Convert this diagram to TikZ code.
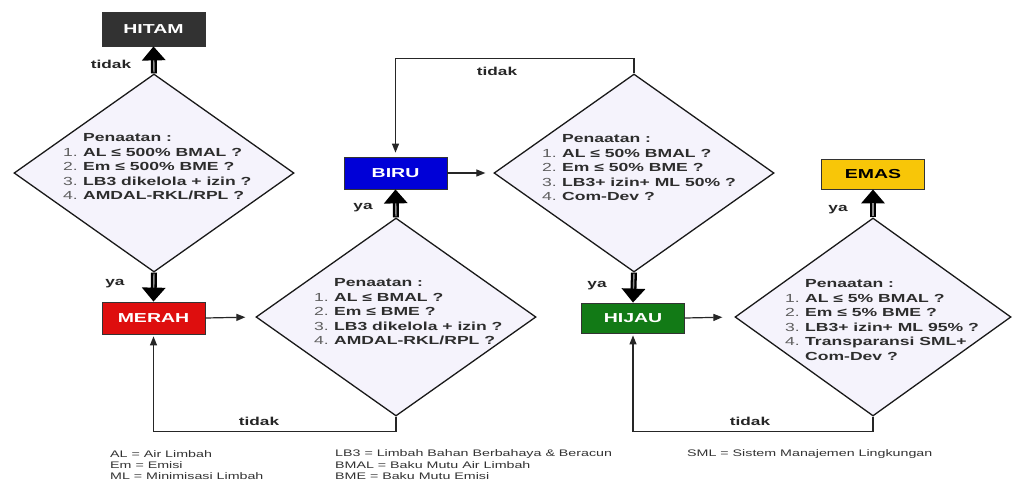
\documentclass[tikz,border=0pt]{standalone}
\usepackage{fontspec}
\setmainfont{Liberation Sans}[FakeStretch=1.5]
\usetikzlibrary{shapes.geometric,arrows.meta}
\definecolor{dfill}{RGB}{245,243,252}
\definecolor{dtext}{RGB}{45,45,45}
\definecolor{dnum}{RGB}{95,95,95}
\definecolor{cHitam}{RGB}{50,50,50}
\definecolor{cMerah}{RGB}{222,14,14}
\definecolor{cBiru}{RGB}{0,0,215}
\definecolor{cHijau}{RGB}{18,122,22}
\definecolor{cEmas}{RGB}{248,198,8}
\newcommand\pn[1]{\makebox[20pt][l]{\mdseries\color{dnum}#1}}
\newcommand\ptxt[1]{%
  {\fontsize{11.7}{14.6}\selectfont\bfseries\color{dtext}%
   \begin{tabular}{@{}l@{}}#1\end{tabular}}}
\begin{document}
\begin{tikzpicture}[x=1pt,y=-1pt,
  box/.style={draw=black!80, line width=0.8pt, minimum width=103pt,
    minimum height=32pt, inner sep=0pt,
    font=\fontsize{13}{15}\selectfont\bfseries, text=white},
  dia/.style={diamond, draw=black!90, line width=1.3pt, fill=dfill,
    minimum width=280pt, minimum height=198pt, inner sep=0pt, aspect=1.4},
  ptext/.style={anchor=north west, inner sep=0pt},
  thickarr/.style={line width=6pt, draw=black,
    -{Triangle[width=23pt,length=14pt]}},
  core/.style={line width=1.4pt, draw=black!45, shorten >=14pt, shorten <=1pt},
  thinarr/.style={line width=1.2pt, draw=black!85,
    -{Triangle[width=7pt,length=9pt]}},
  lab/.style={font=\fontsize{11.5}{13}\selectfont\bfseries, text=black!85,
    inner sep=0pt},
  leg/.style={font=\fontsize{9.5}{11}\selectfont, text=black!80,
    anchor=west, inner sep=0pt}
]
\useasboundingbox (0,0) rectangle (1014,483);
\fill[white] (0,0) rectangle (1014,483);

% boxes
\node[box, fill=cHitam, minimum height=34pt] (hitam) at (153.5,29) {HITAM};
\node[box, fill=cMerah] (merah) at (153.5,318) {MERAH};
\node[box, fill=cBiru] (biru) at (395.5,173) {BIRU};
\node[box, fill=cHijau, minimum height=30pt] (hijau) at (633,318) {HIJAU};
\node[box, fill=cEmas, text=black, minimum height=30pt] (emas) at (873,174) {EMAS};

% diamonds
\node[dia] (d1) at (154,173) {};
\node[dia] (d2) at (396,317) {};
\node[dia] (d3) at (634,173) {};
\node[dia, minimum width=276pt] (d4) at (873,317) {};

% diamond texts
\node[ptext] (p1) at (63,131) {\ptxt{\pn{}Penaatan :\\
  \pn{1.}AL ≤ 500\% BMAL ?\\
  \pn{2.}Em ≤ 500\% BME ?\\
  \pn{3.}LB3 dikelola + izin ?\\
  \pn{4.}AMDAL-RKL/RPL ?}};
\node[ptext] (p2) at (314,276) {\ptxt{\pn{}Penaatan :\\
  \pn{1.}AL ≤ BMAL ?\\
  \pn{2.}Em ≤ BME ?\\
  \pn{3.}LB3 dikelola + izin ?\\
  \pn{4.}AMDAL-RKL/RPL ?}};
\node[ptext] (p3) at (542,132) {\ptxt{\pn{}Penaatan :\\
  \pn{1.}AL ≤ 50\% BMAL ?\\
  \pn{2.}Em ≤ 50\% BME ?\\
  \pn{3.}LB3+ izin+ ML 50\% ?\\
  \pn{4.}Com-Dev ?}};
\node[ptext] (p4) at (785,277) {\ptxt{\pn{}Penaatan :\\
  \pn{1.}AL ≤ 5\% BMAL ?\\
  \pn{2.}Em ≤ 5\% BME ?\\
  \pn{3.}LB3+ izin+ ML 95\% ?\\
  \pn{4.}Transparansi SML+\\
  \pn{}Com-Dev ?}};

% thick "ya/tidak" arrows
\draw[thickarr] (d1.north) -- (hitam.south);
\draw[core] (d1.north) -- (hitam.south);
\draw[thickarr] (d1.south) -- (merah.north);
\draw[core] (d1.south) -- (merah.north);
\draw[thickarr] (d2.north) -- (biru.south);
\draw[core] (d2.north) -- (biru.south);
\draw[thickarr] (d3.south) -- (hijau.north);
\draw[core] (d3.south) -- (hijau.north);
\draw[thickarr] (d4.north) -- (emas.south);
\draw[core] (d4.north) -- (emas.south);

% thin arrows
\draw[thinarr, shorten >=10pt] (merah.east) -- (d2.west);
\draw[thinarr, shorten >=8pt] (biru.east) -- (d3.west);
\draw[thinarr, shorten >=12pt] (hijau.east) -- (d4.west);
\draw[thinarr, shorten >=2pt] (d2.south) -- ++(0,15) -| (merah.south);
\draw[thinarr, shorten >=4pt] (d3.north) -- ++(0,-15) -| (biru.north);
\draw[thinarr, shorten >=2pt] (d4.south) -- ++(0,15) -| (hijau.south);

% labels
\node[lab] (l1) at (111,64) {tidak};
\node[lab] (l2) at (115,284) {ya};
\node[lab] (l3) at (259,421) {tidak};
\node[lab] (l4) at (497,71) {tidak};
\node[lab] (l5) at (363,208) {ya};
\node[lab] (l6) at (597,286) {ya};
\node[lab] (l7) at (838,210) {ya};
\node[lab] (l8) at (750,421) {tidak};

% legend
\node[leg] (g1) at (110,454) {AL = Air Limbah};
\node[leg] (g2) at (110,465) {Em = Emisi};
\node[leg] (g3) at (110,476) {ML = Minimisasi Limbah};
\node[leg] (g4) at (335,454) {LB3 = Limbah Bahan Berbahaya \& Beracun};
\node[leg] (g5) at (335,465) {BMAL = Baku Mutu Air Limbah};
\node[leg] (g6) at (335,476) {BME = Baku Mutu Emisi};
\node[leg] (g7) at (687,454) {SML = Sistem Manajemen Lingkungan};
\end{tikzpicture}
\end{document}
